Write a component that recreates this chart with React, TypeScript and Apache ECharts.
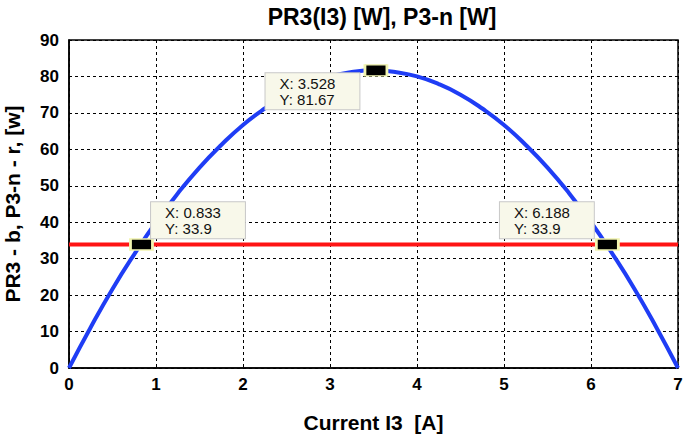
import React, { useEffect, useRef } from "react";
import * as echarts from "echarts";

const currentI3 = [0, 0.25, 0.5, 0.75, 1, 1.25, 1.5, 1.75, 2, 2.25, 2.5, 2.75, 3, 3.25, 3.5, 3.75, 4, 4.25, 4.5, 4.75, 5, 5.25, 5.5, 5.75, 6, 6.25, 6.5, 6.75, 7];
const pr3 = [0, 11.2, 21.7, 31.2, 40.0, 47.9, 55.0, 61.2, 66.7, 71.2, 75.0, 77.9, 80.0, 81.2, 81.7, 81.2, 80.0, 77.9, 75.0, 71.2, 66.7, 61.2, 55.0, 47.9, 40.0, 31.2, 21.7, 11.2, 0];
const p3nX = [0, 7];
const p3nY = [33.9, 33.9];
const tipX = [0.833, 3.528, 6.188];
const tipY = [33.9, 81.67, 33.9];
const tipXText = ["0.833", "3.528", "6.188"];
const tipYText = ["33.9", "81.67", "33.9"];

const FONT = "Liberation Sans, Arial, sans-serif";

export default function App() {
  const ref = useRef<HTMLDivElement>(null);
  useEffect(() => {
    const chart = echarts.init(ref.current!, null, { renderer: "svg" });
    const tipPos: any[] = [
      [22, -36],
      [-98, 9],
      [-95, -36],
    ];
    chart.setOption({
      animation: false,
      backgroundColor: "#ffffff",
      textStyle: { fontFamily: FONT },
      title: {
        text: "PR3(I3) [W], P3-n [W]",
        left: 377,
        top: 0,
        textAlign: "center",
        textStyle: { fontFamily: FONT, fontWeight: "bold", fontSize: 23, color: "#000" },
      },
      grid: {
        left: 69,
        right: 7,
        top: 40,
        bottom: 72,
        outerBoundsMode: "none",
        containLabel: false,
        show: true,
        borderColor: "#000",
        borderWidth: 1.5,
        backgroundColor: "transparent",
      },
      xAxis: {
        type: "value",
        min: 0,
        max: 7,
        interval: 1,
        name: "Current I3  [A]",
        nameLocation: "middle",
        nameGap: 44,
        nameTextStyle: { fontFamily: FONT, fontWeight: "bold", fontSize: 21, color: "#000" },
        axisLine: { show: true, lineStyle: { color: "#000", width: 1.5 } },
        axisTick: { show: false },
        axisLabel: { fontFamily: FONT, fontWeight: "bold", fontSize: 17, color: "#000", margin: 8 },
        splitLine: { show: true, lineStyle: { color: "#000", type: [3, 3], width: 1 } },
      },
      yAxis: {
        type: "value",
        min: 0,
        max: 90,
        interval: 10,
        name: "PR3 - b, P3-n - r, [w]",
        nameLocation: "middle",
        nameGap: 46,
        nameTextStyle: { fontFamily: FONT, fontWeight: "bold", fontSize: 21, color: "#000" },
        axisLine: { show: true, lineStyle: { color: "#000", width: 1.5 } },
        axisTick: { show: false },
        axisLabel: { fontFamily: FONT, fontWeight: "bold", fontSize: 17, color: "#000", margin: 10 },
        splitLine: { show: true, lineStyle: { color: "#000", type: [3, 3], width: 1 } },
      },
      series: [
        {
          type: "line",
          name: "PR3",
          data: currentI3.map((x, i) => [x, pr3[i]]),
          smooth: true,
          showSymbol: false,
          lineStyle: { color: "#1f3df5", width: 4 },
          z: 3,
        },
        {
          type: "line",
          name: "P3-n",
          data: p3nX.map((x, i) => [x, p3nY[i]]),
          showSymbol: false,
          lineStyle: { color: "#ff1414", width: 4 },
          z: 4,
          markPoint: {
            symbol: "rect",
            symbolSize: [22, 11],
            itemStyle: { color: "#000", borderColor: "#f2f5b0", borderWidth: 2 },
            z: 10,
            data: tipX.map((x, i) => ({
              coord: [x, tipY[i]],
              label: {
                show: true,
                position: tipPos[i],
                align: "left",
                verticalAlign: "top",
                formatter: "X: " + tipXText[i] + "\nY: " + tipYText[i],
                fontFamily: FONT,
                fontSize: 15,
                lineHeight: 16,
                color: "#111",
                backgroundColor: "#f8f8ea",
                borderColor: "#c8c8c8",
                borderWidth: 1,
                padding: [2, 24, 2, 14],
              },
            })),
          },
        },
      ],
    });
    return () => chart.dispose();
  }, []);
  return <div ref={ref} style={{ width: 685, height: 440, position: "absolute", left: 0, top: 0 }} />;
}
